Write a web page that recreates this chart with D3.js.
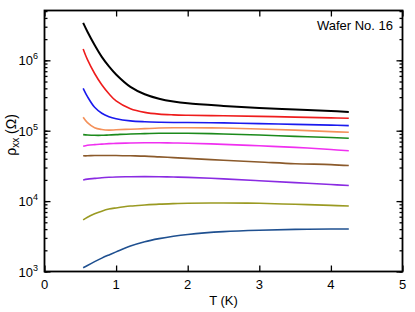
<!DOCTYPE html>
<html><head><meta charset="utf-8">
<script src="https://cdn.jsdelivr.net/npm/d3@7"></script>
<style>
html,body{margin:0;padding:0;background:#fff;}
svg{display:block;font-family:"Liberation Sans",Arial,Helvetica,sans-serif;}
</style></head>
<body><svg id="c" width="415" height="312"></svg>
<script>
// Temperature grid (K)
const temps = [0.54, 0.6, 0.7, 0.8, 0.9, 1.0, 1.2, 1.4, 1.6, 1.8, 2.0, 2.5, 3.0, 3.5, 4.0, 4.25];
// rho_xx series (Ohm)
const black   = [3.4e6, 2.55e6, 1.65e6, 1.12e6, 8.2e5, 6.3e5, 4.2e5, 3.3e5, 2.85e5, 2.6e5, 2.45e5, 2.25e5, 2.1e5, 2.0e5, 1.9e5, 1.85e5];
const red     = [1.45e6, 1.02e6, 6.5e5, 4.5e5, 3.35e5, 2.65e5, 2.05e5, 1.82e5, 1.72e5, 1.68e5, 1.66e5, 1.63e5, 1.6e5, 1.56e5, 1.52e5, 1.5e5];
const blue    = [4.0e5, 3.05e5, 2.15e5, 1.77e5, 1.58e5, 1.48e5, 1.38e5, 1.34e5, 1.32e5, 1.31e5, 1.31e5, 1.29e5, 1.26e5, 1.23e5, 1.2e5, 1.18e5];
const orange  = [1.55e5, 1.3e5, 1.1e5, 1.04e5, 1.02e5, 1.03e5, 1.05e5, 1.07e5, 1.09e5, 1.1e5, 1.1e5, 1.09e5, 1.06e5, 1.02e5, 9.7e4, 9.5e4];
const green   = [8.8e4, 8.7e4, 8.6e4, 8.6e4, 8.7e4, 8.8e4, 9.0e4, 9.1e4, 9.2e4, 9.2e4, 9.2e4, 9.0e4, 8.7e4, 8.3e4, 8.0e4, 7.8e4];
const magenta = [6.0e4, 6.2e4, 6.35e4, 6.45e4, 6.55e4, 6.6e4, 6.7e4, 6.75e4, 6.75e4, 6.7e4, 6.65e4, 6.4e4, 6.1e4, 5.8e4, 5.4e4, 5.2e4];
const brown   = [4.4e4, 4.4e4, 4.45e4, 4.45e4, 4.45e4, 4.45e4, 4.4e4, 4.35e4, 4.25e4, 4.15e4, 4.05e4, 3.8e4, 3.6e4, 3.4e4, 3.3e4, 3.2e4];
const purple  = [2.0e4, 2.05e4, 2.1e4, 2.15e4, 2.18e4, 2.2e4, 2.22e4, 2.23e4, 2.22e4, 2.2e4, 2.17e4, 2.07e4, 1.95e4, 1.83e4, 1.72e4, 1.67e4];
const olive   = [5.4e3, 5.9e3, 6.6e3, 7.2e3, 7.7e3, 8.0e3, 8.5e3, 8.8e3, 9.05e3, 9.2e3, 9.3e3, 9.4e3, 9.3e3, 9.0e3, 8.7e3, 8.5e3];
const navy    = [1.13e3, 1.22e3, 1.38e3, 1.55e3, 1.72e3, 1.9e3, 2.3e3, 2.65e3, 2.93e3, 3.17e3, 3.36e3, 3.68e3, 3.86e3, 3.96e3, 4.01e3, 4.02e3];

const seriesValues = [black, red, blue, orange, green, magenta, brown, purple, olive, navy];
const seriesColors = ["#000000", "#ee1c1c", "#1a1aee", "#f4915a", "#1c8a1c", "#f030f0", "#8b5a2b", "#8a2be2", "#9a9a22", "#1f5090"];

const xTicks = [0, 1, 2, 3, 4, 5];
const yMajorExps = [3, 4, 5, 6];
const xDomain = [0, 5];
const yDomain = [1e3, 5.1e6];

const svg = d3.select("#c");
const L = 44.5, R = 402.5, T = 10.5, B = 271.5;
const x = d3.scaleLinear().domain(xDomain).range([L, R]);
const y = d3.scaleLog().domain(yDomain).range([B, T]);

svg.append("clipPath").attr("id","clip").append("rect").attr("x",L).attr("y",T).attr("width",R-L).attr("height",B-T);

const line = d3.line().x(d => x(d[0])).y(d => y(d[1])).curve(d3.curveCatmullRom.alpha(0.5));
const g = svg.append("g").attr("clip-path","url(#clip)");
seriesValues.forEach((vals, i) => {
  g.append("path")
    .attr("d", line(temps.map((t, j) => [t, vals[j]])))
    .attr("fill","none")
    .attr("stroke", seriesColors[i])
    .attr("stroke-width", i === 0 ? 2 : 1.6)
    .attr("stroke-linejoin","round");
});

const minorVals = [];
for (let e = 3; e <= 6; e++) for (let m = 1; m <= 9; m++) {
  const v = m * Math.pow(10, e);
  if (v >= yDomain[0] && v <= yDomain[1]) minorVals.push(v);
}
svg.append("g").attr("transform",`translate(${L},0)`).call(d3.axisLeft(y).tickValues(minorVals).tickSize(-3).tickFormat(""));
svg.append("g").attr("transform",`translate(${R},0)`).call(d3.axisRight(y).tickValues(minorVals).tickSize(-3).tickFormat(""));
const majorVals = yMajorExps.map(e => Math.pow(10, e));
svg.append("g").attr("transform",`translate(${L},0)`).call(d3.axisLeft(y).tickValues(majorVals).tickSize(-6).tickFormat(""));
svg.append("g").attr("transform",`translate(${R},0)`).call(d3.axisRight(y).tickValues(majorVals).tickSize(-6).tickFormat(""));
svg.append("g").attr("transform",`translate(0,${B})`).call(d3.axisBottom(x).tickValues(xTicks).tickSize(-6).tickFormat(""));
svg.append("g").attr("transform",`translate(0,${T})`).call(d3.axisTop(x).tickValues(xTicks).tickSize(-6).tickFormat(""));
svg.selectAll(".domain").remove();
svg.selectAll(".tick line").attr("stroke","#000").attr("stroke-width",1.3);

svg.append("rect").attr("x",L).attr("y",T).attr("width",R-L).attr("height",B-T)
  .attr("fill","none").attr("stroke","#000").attr("stroke-width",1.8);

svg.append("g").selectAll("text").data(xTicks).join("text")
  .attr("x", d => x(d)).attr("y", 289).attr("text-anchor","middle")
  .attr("font-size", 13).text(d => d);

const yl = svg.append("g").selectAll("text").data(yMajorExps).join("text")
  .attr("x", 38).attr("y", d => y(Math.pow(10, d)) + 5).attr("text-anchor","end")
  .attr("font-size", 13);
yl.append("tspan").text("10");
yl.append("tspan").attr("font-size", 9).attr("dy", -6).text(d => d);

svg.append("text").attr("x", (L+R)/2).attr("y", 305).attr("text-anchor","middle")
  .attr("font-size", 13).text("T (K)");
const yt = svg.append("text").attr("transform","translate(16,135) rotate(-90)")
  .attr("text-anchor","middle").attr("font-size", 14);
yt.append("tspan").text("ρ");
yt.append("tspan").attr("font-size", 10).attr("dy", 3).text("xx");
yt.append("tspan").attr("dy", -3).text(" (Ω)");

svg.append("text").attr("x", 393).attr("y", 30).attr("text-anchor","end")
  .attr("font-size", 13).text("Wafer No. 16");
</script></body></html>
